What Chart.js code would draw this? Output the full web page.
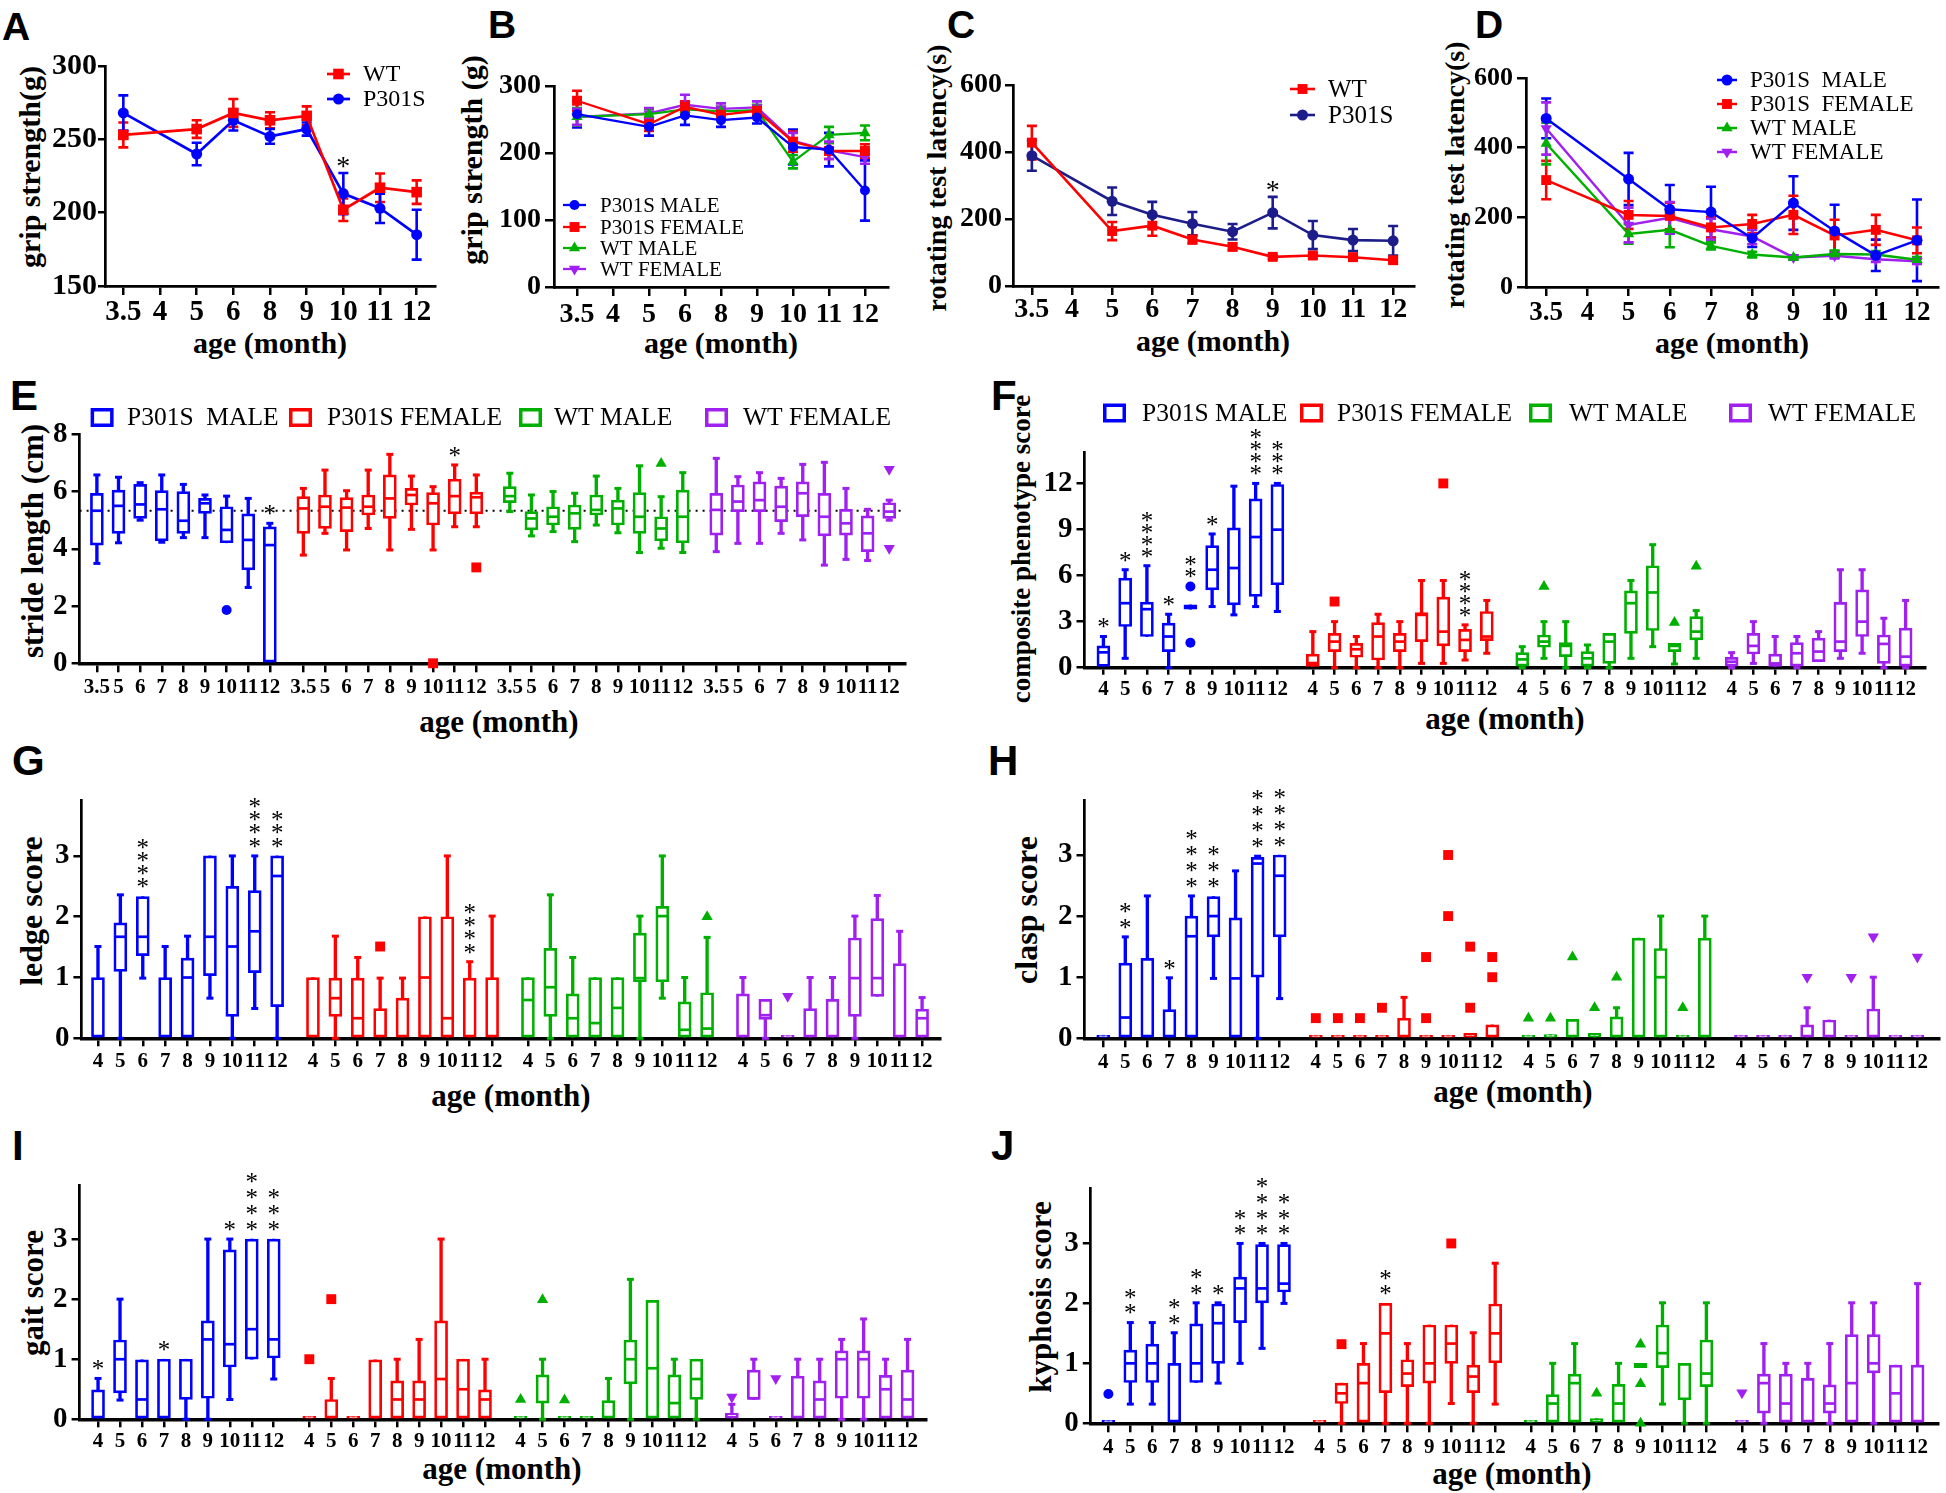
<!DOCTYPE html>
<html lang="en">
<head>
<meta charset="utf-8">
<title>P301S behaviour</title>
<script src="https://cdn.jsdelivr.net/npm/chart.js@4.4.1/dist/chart.umd.min.js"></script>
<style>
  body { margin: 0; width: 1946px; height: 1493px; position: relative; background: #fff; overflow: hidden; }
  canvas { position: absolute; }
  .letra { position: absolute; font-family: 'Liberation Sans', Arial, sans-serif; font-weight: bold; line-height: 1; color: #000; }
  .tit { position: absolute; font-family: 'Liberation Serif', 'Times New Roman', serif; font-weight: bold; line-height: 1; white-space: nowrap; color: #000; transform: translate(-50%, -50%); }
  .rot { transform: translate(-50%, -50%) rotate(-90deg); }
</style>
</head>
<body>
<div class="letra" style="left:2px;top:7px;font-size:39px">A</div>
<div class="letra" style="left:488px;top:5px;font-size:39px">B</div>
<div class="letra" style="left:947px;top:5px;font-size:39px">C</div>
<div class="letra" style="left:1475px;top:5px;font-size:39px">D</div>
<div class="letra" style="left:10px;top:375px;font-size:42px">E</div>
<div class="letra" style="left:991px;top:375px;font-size:42px">F</div>
<div class="letra" style="left:12px;top:740px;font-size:42px">G</div>
<div class="letra" style="left:988px;top:740px;font-size:42px">H</div>
<div class="letra" style="left:12px;top:1125px;font-size:42px">I</div>
<div class="letra" style="left:991px;top:1125px;font-size:42px">J</div>

<div class="tit rot" style="left:30px;top:167px;font-size:30px">grip strength(g)</div>
<div class="tit" style="left:270px;top:343px;font-size:30px">age (month)</div>
<div class="tit rot" style="left:472px;top:160px;font-size:30px">grip strength (g)</div>
<div class="tit" style="left:721px;top:343px;font-size:30px">age (month)</div>
<div class="tit rot" style="left:937px;top:178px;font-size:28px">rotating test latency(s)</div>
<div class="tit" style="left:1213px;top:341px;font-size:30px">age (month)</div>
<div class="tit rot" style="left:1455px;top:175px;font-size:28px">rotating test latency(s)</div>
<div class="tit" style="left:1732px;top:343px;font-size:30px">age (month)</div>
<div class="tit rot" style="left:32px;top:541px;font-size:31px">stride length (cm)</div>
<div class="tit" style="left:499px;top:721px;font-size:31px">age (month)</div>
<div class="tit rot" style="left:1021px;top:549px;font-size:27px">composite phenotype score</div>
<div class="tit" style="left:1505px;top:718px;font-size:31px">age (month)</div>
<div class="tit rot" style="left:31px;top:911px;font-size:32px">ledge score</div>
<div class="tit" style="left:511px;top:1095px;font-size:31px">age (month)</div>
<div class="tit rot" style="left:1026px;top:910px;font-size:32px">clasp score</div>
<div class="tit" style="left:1513px;top:1091px;font-size:31px">age (month)</div>
<div class="tit rot" style="left:32px;top:1293px;font-size:31px">gait score</div>
<div class="tit" style="left:502px;top:1468px;font-size:31px">age (month)</div>
<div class="tit rot" style="left:1040px;top:1297px;font-size:31px">kyphosis score</div>
<div class="tit" style="left:1512px;top:1473px;font-size:31px">age (month)</div>

<script>
const SERIF = "'Liberation Serif', 'Times New Roman', serif";
const AZUL = '#0000FF';
const VERMELHO = '#FF0000';
const VERDE = '#00B000';
const ROXO = '#A020F0';
const MARINHO = '#1C1C8A';

// ---------- A / B: grip strength (média ± EP) ----------
const mesesGrip = ['3.5', '4', '5', '6', '8', '9', '10', '11', '12'];
const gripWT = [253, null, 257, 268, 263, 266, 202, 217, 214];
const gripWTErro = [8.5, null, 6, 9.5, 5.5, 6.5, 7.7, 9.7, 8];
const gripP301S = [268, null, 240, 263, 252, 257, 213, 203, 185];
const gripP301SErro = [12, null, 7.7, 7, 5, 4.5, 14, 10, 17];
const gripEstrelas = [0, 0, 0, 0, 0, 0, 1, 0, 0];

const gripMachoP301S = [258, null, 239, 256, 249, 253, 209, 205, 144];
const gripMachoP301SErro = [20, null, 13, 14, 10, 9, 26, 25, 45];
const gripFemeaP301S = [278, null, 243, 269, 257, 263, 217, 203, 203];
const gripFemeaP301SErro = [15, null, 10, 8, 7, 7, 15, 12, 10];
const gripMachoWT = [254, null, 258, 265, 262, 264, 187, 227, 230];
const gripMachoWTErro = [13, null, 8, 8, 7, 8, 10, 12, 11];
const gripFemeaWT = [254, null, 259, 272, 266, 268, 218, 204, 194];
const gripFemeaWTErro = [12, null, 8, 15, 8, 9, 12, 13, 10];

// ---------- C / D: rotarod ----------
const mesesRota = ['3.5', '4', '5', '6', '7', '8', '9', '10', '11', '12'];
const rotaWT = [428, null, 164, 180, 139, 117, 87, 91, 86, 77];
const rotaWTErro = [50, null, 27, 30, 12, 10, 6, 6, 7, 6];
const rotaP301S = [389, null, 253, 213, 186, 162, 219, 152, 137, 135];
const rotaP301SErro = [45, null, 41, 38, 35, 23, 47, 42, 33, 44];
const rotaEstrelas = [0, 0, 0, 0, 0, 0, 1, 0, 0, 0];

const rotaMachoP301S = [484, null, 310, 223, 215, 140, 241, 161, 91, 134];
const rotaMachoP301SErro = [57, null, 75, 70, 73, 25, 77, 75, 45, 117];
const rotaFemeaP301S = [307, null, 207, 204, 171, 181, 207, 148, 164, 134];
const rotaFemeaP301SErro = [55, null, 40, 38, 30, 26, 55, 45, 43, 37];
const rotaMachoWT = [412, null, 152, 164, 118, 93, 85, 95, 93, 78];
const rotaMachoWTErro = [60, null, 28, 50, 10, 8, 6, 10, 10, 8];
const rotaFemeaWT = [455, null, 178, 199, 166, 145, 85, 90, 80, 74];
const rotaFemeaWTErro = [75, null, 50, 45, 30, 22, 5, 8, 8, 8];

// ---------- caixas: [min, q1, mediana, q3, max] por mês ----------
const mesesStride = ['3.5', '5', '6', '7', '8', '9', '10', '11', '12'];
const mesesScore = ['4', '5', '6', '7', '8', '9', '10', '11', '12'];
const nomesE = ['P301S  MALE', 'P301S FEMALE', 'WT MALE', 'WT FEMALE'];
const nomesF = ['P301S MALE', 'P301S FEMALE', 'WT MALE', 'WT FEMALE'];

// E: stride length (cm)
const strideRef = 5.33;
const strideMachoP = [[3.49, 4.13, 5.33, 5.94, 6.58], [4.21, 4.54, 5.5, 6.05, 6.5], [5.0, 5.06, 5.55, 6.25, 6.31], [4.23, 4.28, 5.38, 6.03, 6.58], [4.39, 4.54, 4.98, 6.0, 6.25], [4.39, 5.24, 5.59, 5.76, 5.88], [4.21, 4.21, 4.66, 5.47, 5.84], [2.65, 3.26, 4.31, 5.22, 5.76], [0, 0, 4.13, 4.77, 4.89]];
const strideFemeaP = [[3.78, 4.54, 5.41, 5.82, 6.11], [4.54, 4.71, 5.47, 5.88, 6.75], [3.96, 4.6, 5.44, 5.79, 6.03], [4.71, 5.18, 5.47, 5.88, 6.75], [3.96, 5.06, 5.76, 6.58, 7.3], [4.68, 5.53, 5.88, 6.11, 6.54], [3.96, 4.83, 5.59, 5.96, 6.17], [4.77, 5.22, 5.84, 6.43, 6.93], [4.77, 5.22, 5.8, 5.98, 6.58]];
const strideMachoWT = [[5.3, 5.61, 5.84, 6.17, 6.64], [4.45, 4.66, 5.06, 5.3, 5.88], [4.6, 4.83, 5.12, 5.47, 6.0], [4.25, 4.68, 5.24, 5.53, 5.94], [4.83, 5.18, 5.36, 5.88, 6.54], [4.56, 4.83, 5.41, 5.7, 6.11], [3.87, 4.54, 5.12, 5.96, 6.9], [4.02, 4.28, 4.71, 5.12, 5.82], [3.87, 4.21, 5.12, 6.05, 6.66]];
const strideFemeaWT = [[3.9, 4.48, 5.36, 5.94, 7.16], [4.19, 5.3, 5.65, 6.23, 6.52], [4.19, 5.3, 5.7, 6.34, 6.66], [4.54, 4.95, 5.47, 6.19, 6.46], [4.31, 5.12, 5.94, 6.34, 6.95], [3.43, 4.45, 5.12, 5.94, 7.02], [3.63, 4.48, 4.89, 5.38, 6.11], [3.59, 3.9, 4.54, 5.15, 5.38], [5.0, 5.06, 5.3, 5.61, 5.7]];
const strideOut = [[[6, 1.86]], [[6, 0], [8, 3.35]], [[7, 6.98]], [[8, 6.78], [8, 4.02]]];
const strideEst = [[0, 0, 0, 0, 0, 0, 0, 0, 1], [0, 0, 0, 0, 0, 0, 0, 1, 0], null, null];

// F: composite phenotype score
const compMachoP = [[0, 0, 1.0, 1.42, 2.03], [0.61, 2.68, 4.2, 5.84, 6.38], [2.03, 2.03, 3.81, 4.27, 6.64], [0, 1.05, 2.03, 2.9, 3.48], [3.81, 3.81, 3.95, 4.09, 4.09], [3.98, 5.07, 6.38, 7.95, 8.71], [3.44, 4.09, 6.49, 9.1, 11.82], [3.98, 4.64, 8.51, 11.0, 12.0], [3.66, 5.4, 8.99, 11.93, 12.0]];
const compFemeaP = [[0, 0, 0.3, 0.89, 2.35], [0, 1.05, 1.7, 2.24, 3.0], [0, 0.68, 1.2, 1.59, 2.03], [0, 0.5, 2.03, 2.94, 3.48], [0, 1.05, 1.7, 2.24, 3.0], [0.28, 1.7, 3.44, 3.59, 5.68], [0.28, 1.42, 2.35, 4.6, 5.68], [0.5, 1.05, 1.81, 2.5, 2.79], [0.94, 1.76, 2.03, 3.66, 4.38]];
const compMachoWT = [[0, 0.1, 0.54, 0.98, 1.37], [0.61, 1.33, 1.7, 2.13, 3.0], [0, 0.72, 1.42, 1.63, 3.0], [0, 0.1, 0.61, 1.05, 1.48], [0, 0.28, 1.7, 2.24, 2.24], [0.61, 2.24, 4.2, 5.0, 5.68], [1.37, 2.42, 4.9, 6.64, 8.01], [0.24, 1.05, 1.42, 1.59, 1.59], [0.61, 1.81, 2.35, 3.33, 3.72]];
const compFemeaWT = [[0, 0.1, 0.39, 0.68, 0.98], [0.28, 0.89, 1.42, 2.24, 3.0], [0, 0, 0.28, 0.89, 2.03], [0, 0.1, 0.94, 1.63, 2.03], [0.39, 0.39, 1.05, 1.92, 2.35], [0.61, 1.05, 1.7, 4.25, 6.38], [0.94, 2.03, 3.0, 5.07, 6.38], [0, 0.28, 1.55, 2.13, 3.22], [0, 0.1, 0.72, 2.57, 4.38]];
const compOut = [[[4, 5.29], [4, 1.63]], [[1, 4.31], [6, 12.0]], [[1, 5.29], [7, 2.94], [8, 6.6]], []];
const compEst = [[1, 1, 4, 1, 2, 1, 0, 4, 3], [0, 0, 0, 0, 0, 0, 0, 4, 0], null, null];

// G: ledge score
const ledgeMachoP = [[0, 0, 0, 1.0, 1.51], [0, 1.1, 1.67, 1.9, 2.36], [0.99, 1.36, 1.67, 2.33, 2.33], [0, 0, 0, 1.0, 1.51], [0, 0, 1.0, 1.32, 1.68], [0.66, 1.03, 1.67, 3.0, 3.0], [0, 0.36, 1.51, 2.5, 3.0], [0.49, 1.08, 1.76, 2.43, 3.0], [0, 0.52, 2.67, 3.0, 3.0]];
const ledgeFemeaP = [[0, 0, 0, 1, 1], [0, 0.36, 0.66, 0.99, 1.68], [0, 0, 0.33, 0.99, 1.33], [0, 0, 0, 0.49, 0.99], [0, 0, 0, 0.66, 0.99], [0, 0, 1.0, 2.0, 2.0], [0, 0, 0.33, 2.0, 3.0], [0, 0, 0, 0.99, 1.26], [0, 0, 0, 1.0, 2.01]];
const ledgeMachoWT = [[0, 0, 0.63, 1, 1], [0, 0.36, 0.84, 1.48, 2.36], [0, 0, 0.33, 0.73, 1.33], [0, 0, 0.25, 1, 1], [0, 0, 0.5, 1, 1], [0, 0.93, 0.99, 1.73, 2.01], [0.66, 0.93, 2.01, 2.17, 3.0], [0, 0, 0.14, 0.6, 1.0], [0, 0, 0.16, 0.75, 1.66]];
const ledgeFemeaWT = [[0, 0, 0, 0.73, 1], [0, 0.31, 0.38, 0.64, 0.64], [0, 0, 0, 0.05, 0.05], [0, 0, 0, 0.49, 1], [0, 0, 0, 0.64, 1], [0, 0.36, 0.99, 1.65, 2.01], [0.69, 0.69, 0.99, 1.97, 2.35], [0, 0, 0, 1.23, 1.76], [0, 0, 0.33, 0.48, 0.67]];
const ledgeOut = [[], [[3, 1.51]], [[8, 2.0]], [[2, 0.69]]];
const ledgeEst = [[0, 0, 4, 0, 0, 0, 0, 4, 3], [0, 0, 0, 0, 0, 0, 0, 4, 0], null, null];

// H: clasp score
const claspMachoP = [[0, 0, 0, 0.05, 0.05], [0, 0, 0.34, 1.23, 1.66], [0, 0, 0, 1.31, 2.33], [0, 0, 0, 0.47, 0.99], [0, 0, 1.67, 2.0, 2.33], [0.98, 1.66, 2.0, 2.32, 2.32], [0, 0, 0.98, 1.97, 2.74], [0, 1.0, 2.86, 2.96, 2.98], [0.65, 1.66, 2.66, 3.0, 3.0]];
const claspFemeaP = [[0, 0, 0, 0.05, 0.05], [0, 0, 0, 0.05, 0.05], [0, 0, 0, 0.05, 0.05], [0, 0, 0, 0.05, 0.05], [0, 0, 0, 0.33, 0.67], [0, 0, 0, 0.05, 0.05], [0, 0, 0, 0.05, 0.05], [0, 0, 0, 0.08, 0.08], [0, 0, 0, 0.22, 0.22]];
const claspMachoWT = [[0, 0, 0, 0.05, 0.05], [0, 0, 0, 0.06, 0.06], [0, 0, 0, 0.31, 0.31], [0, 0, 0, 0.08, 0.08], [0, 0, 0, 0.35, 0.5], [0, 0, 0, 1.64, 1.64], [0, 0, 1.0, 1.47, 2.0], [0, 0, 0, 0.05, 0.05], [0, 0, 0, 1.64, 2.0]];
const claspFemeaWT = [[0, 0, 0, 0.05, 0.05], [0, 0, 0, 0.05, 0.05], [0, 0, 0, 0.05, 0.05], [0, 0, 0, 0.22, 0.5], [0, 0, 0, 0.3, 0.3], [0, 0, 0, 0.05, 0.05], [0, 0, 0, 0.48, 1.0], [0, 0, 0, 0.05, 0.05], [0, 0, 0, 0.05, 0.05]];
const claspOut = [[], [[0, 0.33], [1, 0.33], [2, 0.33], [3, 0.5], [5, 1.33], [5, 0.33], [6, 3.0], [6, 2.0], [7, 1.5], [7, 0.5], [8, 1.33], [8, 1.0]], [[0, 0.33], [1, 0.33], [2, 1.33], [3, 0.5], [4, 1.0], [7, 0.5]], [[3, 1.0], [5, 1.0], [6, 1.66], [8, 1.33]]];
const claspEst = [[0, 2, 0, 1, 4, 3, 0, 4, 4], null, null, null];

// I: gait score
const gaitMachoP = [[0, 0, 0, 0.49, 0.68], [0.32, 0.44, 1.0, 1.32, 2.0], [0, 0, 0.33, 0.99, 0.99], [0, 0, 0, 1, 1], [0, 0.33, 0.33, 1, 1], [0, 0.35, 1.33, 1.64, 3.0], [0.33, 0.87, 1.25, 2.82, 3.0], [1.0, 1.0, 1.5, 3.0, 3.0], [0.67, 1.02, 1.33, 3.0, 3.0]];
const gaitFemeaP = [[0, 0, 0, 0.05, 0.05], [0, 0, 0, 0.33, 0.68], [0, 0, 0, 0.05, 0.05], [0, 0, 0, 0.99, 0.99], [0, 0, 0.33, 0.64, 1.0], [0, 0, 0.33, 0.64, 1.33], [0, 0, 0.67, 1.64, 3.0], [0, 0, 0.5, 1.0, 1.0], [0, 0, 0.33, 0.49, 1.0]];
const gaitMachoWT = [[0, 0, 0, 0.05, 0.05], [0, 0.27, 0.27, 0.74, 1.0], [0, 0, 0, 0.05, 0.05], [0, 0, 0, 0.05, 0.05], [0, 0, 0, 0.31, 0.68], [0, 0.59, 1.0, 1.32, 2.33], [0, 0, 0.85, 1.98, 1.98], [0, 0, 0.27, 0.74, 1.0], [0, 0.33, 0.67, 1.0, 1.0]];
const gaitFemeaWT = [[0, 0, 0, 0.1, 0.25], [0.33, 0.33, 0.35, 0.82, 1.0], [0, 0, 0, 0.05, 0.05], [0, 0, 0, 0.72, 1.0], [0, 0, 0.33, 0.64, 1.0], [0, 0.35, 1.0, 1.14, 1.33], [0, 0.35, 1.0, 1.14, 1.67], [0, 0, 0.5, 0.73, 1.0], [0, 0, 0.33, 0.82, 1.33]];
const gaitOut = [[], [[0, 1.0], [1, 2.0]], [[0, 0.33], [1, 1.99], [2, 0.32]], [[0, 0.37], [2, 0.68]]];
const gaitEst = [[1, 0, 0, 1, 0, 0, 1, 4, 3], null, null, null];

// J: kyphosis score
const kyphMachoP = [[0, 0, 0, 0.05, 0.05], [0.32, 0.68, 1.0, 1.22, 1.68], [0.32, 0.68, 1.0, 1.32, 1.68], [0, 0, 0, 1.0, 1.51], [0.68, 0.68, 1.0, 1.66, 2.01], [0.67, 1.0, 1.67, 1.99, 2.01], [1.0, 1.68, 2.25, 2.44, 3.0], [1.25, 2.01, 2.25, 2.98, 3.0], [2.0, 2.19, 2.33, 2.98, 3.0]];
const kyphFemeaP = [[0, 0, 0, 0.05, 0.05], [0, 0.33, 0.5, 0.67, 0.67], [0, 0, 0.67, 1.0, 1.33], [0, 0.51, 1.5, 2.0, 2.0], [0, 0.61, 0.83, 1.06, 1.33], [0, 0.67, 1.0, 1.64, 1.64], [0.33, 1.0, 1.33, 1.64, 1.64], [0, 0.51, 0.78, 0.97, 1.51], [0.32, 1.01, 1.5, 1.99, 2.67]];
const kyphMachoWT = [[0, 0, 0, 0.05, 0.05], [0, 0, 0.33, 0.48, 1.0], [0, 0, 0.67, 0.82, 1.33], [0, 0, 0, 0.08, 0.08], [0, 0, 0.33, 0.65, 1.0], [0.93, 0.93, 0.97, 1.0, 1.0], [0.32, 0.93, 1.17, 1.64, 2.01], [0, 0.39, 0.39, 1.0, 1.0], [0, 0.61, 0.83, 1.39, 2.01]];
const kyphFemeaWT = [[0, 0, 0, 0.05, 0.05], [0, 0.17, 0.67, 0.82, 1.33], [0, 0, 0.33, 0.82, 1.0], [0, 0, 0, 0.75, 1.0], [0, 0.17, 0.33, 0.64, 1.33], [0, 0, 0.67, 1.48, 2.01], [0, 0.84, 1.0, 1.48, 2.01], [0, 0, 0.5, 0.97, 0.97], [0, 0, 0, 0.97, 2.33]];
const kyphOut = [[[0, 0.49]], [[1, 1.32], [6, 3.0]], [[3, 0.5], [5, 1.32], [5, 0.66], [5, 0]], [[0, 0.51]]];
const kyphEst = [[0, 2, 0, 2, 2, 1, 2, 4, 3], [0, 0, 0, 2, 0, 0, 0, 0, 0], null, null];

// marcadores dos grupos (mesma ordem em todas as figuras)
const CORES = [AZUL, VERMELHO, VERDE, ROXO];
const MARCAS = [['circle', 0, 5], ['rect', 0, 7], ['triangle', 0, 6.5], ['triangle', 180, 6.5]];

// ---------- utilitários ----------
function novoCanvas(p) {
    const c = document.createElement('canvas');
    c.width = p.w;
    c.height = p.h;
    c.style.left = p.left + 'px';
    c.style.top = p.top + 'px';
    document.body.appendChild(c);
    return c;
}

function marcador(ctx, estilo, rot, x, y, r) {
    ctx.beginPath();
    if (estilo === 'circle') {
        ctx.arc(x, y, r, 0, Math.PI * 2);
    } else if (estilo === 'rect') {
        const s = r * Math.SQRT1_2;
        ctx.rect(x - s, y - s, 2 * s, 2 * s);
    } else {
        let a = rot * Math.PI / 180;
        ctx.moveTo(x + Math.sin(a) * r, y - Math.cos(a) * r);
        a += 2 * Math.PI / 3;
        ctx.lineTo(x + Math.sin(a) * r, y - Math.cos(a) * r);
        a += 2 * Math.PI / 3;
        ctx.lineTo(x + Math.sin(a) * r, y - Math.cos(a) * r);
        ctx.closePath();
    }
    ctx.fill();
}

function estrelas(ctx, x, yBase, n, passo, fonte) {
    ctx.save();
    ctx.font = fonte + 'px ' + SERIF;
    ctx.textAlign = 'center';
    ctx.textBaseline = 'middle';
    ctx.fillStyle = '#000';
    for (let j = 0; j < n; j++) {
        ctx.fillText('*', x, yBase - j * passo + 0.13 * fonte);
    }
    ctx.restore();
}

function eixoX(p, posicoes, rotulos, fonte) {
    return {
        type: 'linear', bounds: 'data', offset: false, min: p.x[0], max: p.x[1],
        afterBuildTicks: s => { s.ticks = posicoes.map(v => ({ value: v })); },
        afterFit: s => { s.height = p.top + p.h - p.area[3]; },
        ticks: {
            autoSkip: false, maxRotation: 0, minRotation: 0, color: '#000', padding: p.tickX[1],
            font: { family: SERIF, weight: 'bold', size: fonte },
            callback: (v, i) => rotulos[i]
        },
        grid: { drawOnChartArea: false, offset: false, color: '#000', lineWidth: 2.5, tickLength: p.tickX[0] },
        border: { color: '#000', width: p.bordaX || 2.7 }
    };
}

function eixoY(p, fonte) {
    const passo = p.y[2];
    return {
        type: 'linear', bounds: 'data', min: p.y[0], max: p.y[1],
        afterBuildTicks: s => {
            // só marcas em múltiplos do passo (o topo do eixo fica sem rótulo)
            s.ticks = s.ticks.filter(t => Math.abs(t.value / passo - Math.round(t.value / passo)) < 1e-6);
        },
        afterFit: s => { s.width = p.area[0] - p.left; },
        ticks: {
            stepSize: passo, includeBounds: false, color: '#000', padding: p.tickY[1],
            font: { family: SERIF, weight: 'bold', size: fonte }
        },
        grid: { drawOnChartArea: false, color: '#000', lineWidth: 2.5, tickLength: p.tickY[0] },
        border: { color: '#000', width: 2.7 }
    };
}

function layoutDe(p) {
    return { padding: { left: 0, bottom: 0, top: p.area[1] - p.top, right: p.left + p.w - p.area[2] } };
}

// ---------- gráficos de linha (A-D) ----------
function criarLinhas(p) {
    const datasets = p.series.map(s => ({
        type: 'line',
        label: s.nome,
        data: s.valores.map((v, i) => ({ x: i, y: v })),
        erro: s.erro,
        estrelas: s.estrelas,
        borderColor: s.cor,
        backgroundColor: s.cor,
        borderWidth: p.espLinha,
        pointStyle: s.marca[0],
        pointRotation: s.marca[1],
        pointRadius: s.marca[2],
        pointBorderWidth: 0,
        spanGaps: true,
        clip: false
    }));

    const enfeites = {
        id: 'enfeitesLinha',
        beforeDatasetsDraw(chart) {
            // barras de erro
            const { ctx, scales: { x, y } } = chart;
            chart.data.datasets.forEach(ds => {
                ctx.save();
                ctx.strokeStyle = ds.borderColor;
                ctx.lineWidth = 2.6;
                ds.data.forEach((pt, i) => {
                    if (pt.y == null) return;
                    const px = x.getPixelForValue(pt.x);
                    const t = y.getPixelForValue(pt.y + ds.erro[i]);
                    const b = y.getPixelForValue(pt.y - ds.erro[i]);
                    ctx.beginPath();
                    ctx.moveTo(px, t); ctx.lineTo(px, b);
                    ctx.moveTo(px - 5, t); ctx.lineTo(px + 5, t);
                    ctx.moveTo(px - 5, b); ctx.lineTo(px + 5, b);
                    ctx.stroke();
                });
                ctx.restore();
            });
        },
        afterDatasetsDraw(chart) {
            const { ctx, scales: { x, y } } = chart;
            chart.data.datasets.forEach(ds => {
                if (!ds.estrelas) return;
                ds.estrelas.forEach((n, i) => {
                    if (!n) return;
                    const pt = ds.data[i];
                    const topo = y.getPixelForValue(pt.y + ds.erro[i]);
                    estrelas(ctx, x.getPixelForValue(pt.x), topo - 9, n, 14, 28);
                });
            });
            // legenda
            const L = p.legenda;
            ctx.save();
            ctx.font = L.fonte + 'px ' + SERIF;
            ctx.textBaseline = 'middle';
            ctx.textAlign = 'left';
            p.series.forEach((s, k) => {
                const yy = L.ys[k] - p.top;
                const x1 = L.x1 - p.left, x2 = L.x2 - p.left;
                ctx.strokeStyle = s.cor;
                ctx.fillStyle = s.cor;
                ctx.lineWidth = p.espLinha;
                ctx.beginPath(); ctx.moveTo(x1, yy); ctx.lineTo(x2, yy); ctx.stroke();
                marcador(ctx, s.marca[0], s.marca[1], (x1 + x2) / 2, yy, s.marca[2]);
                ctx.fillStyle = '#000';
                ctx.fillText(s.nome, L.xt - p.left, yy + 1);
            });
            ctx.restore();
        }
    };

    new Chart(novoCanvas(p), {
        type: 'line',
        data: { datasets },
        options: {
            animation: false,
            responsive: false,
            events: [],
            layout: layoutDe(p),
            plugins: { legend: { display: false }, tooltip: { enabled: false } },
            scales: {
                x: eixoX(p, p.meses.map((m, i) => i), p.meses, p.fonteX),
                y: eixoY(p, p.fonteY)
            }
        },
        plugins: [enfeites]
    });
}

// ---------- box plots (E-J) ----------
function criarCaixas(p) {
    const posicoes = [];
    const rotulos = [];
    p.grupos.forEach((g, k) => p.meses.forEach((m, i) => {
        posicoes.push(k * p.passoGrupo + i);
        rotulos.push(m);
    }));

    const datasets = [];
    p.grupos.forEach((caixas, k) => {
        const xk = i => k * p.passoGrupo + i;
        // bigodes
        datasets.push({
            type: 'bar', data: caixas.map((c, i) => ({ x: xk(i), y: [c[0], c[4]] })),
            backgroundColor: CORES[k], borderWidth: 0, maxBarThickness: 2.7,
            categoryPercentage: 1, barPercentage: 1, grouped: false, order: 3, clip: false
        });
        // caixa q1-q3
        datasets.push({
            type: 'bar', data: caixas.map((c, i) => ({ x: xk(i), y: [c[1], c[3]] })),
            caixas: caixas, estrelas: p.estrelas[k], fora: p.fora[k],
            backgroundColor: '#fff', borderColor: CORES[k], borderWidth: 2.7, borderSkipped: false,
            maxBarThickness: 13, categoryPercentage: 1, barPercentage: 1, grouped: false, order: 2, clip: false
        });
        // pontos fora
        datasets.push({
            type: 'scatter', data: p.fora[k].map(([i, v]) => ({ x: xk(i), y: v })),
            backgroundColor: CORES[k], pointStyle: MARCAS[k][0], pointRotation: MARCAS[k][1],
            pointRadius: MARCAS[k][2], pointBorderWidth: 0, order: 1, clip: false
        });
    });

    const enfeites = {
        id: 'enfeitesCaixa',
        beforeDatasetsDraw(chart) {
            if (p.linhaRef == null) return;
            const { ctx, chartArea: a, scales: { y } } = chart;
            const yy = y.getPixelForValue(p.linhaRef);
            ctx.save();
            ctx.setLineDash([2, 5]);
            ctx.lineWidth = 2;
            ctx.strokeStyle = '#000';
            ctx.beginPath(); ctx.moveTo(a.left, yy); ctx.lineTo(a.right, yy); ctx.stroke();
            ctx.restore();
        },
        afterDatasetsDraw(chart) {
            const { ctx, scales: { y } } = chart;
            chart.data.datasets.forEach((ds, k) => {
                if (!ds.caixas) return;
                const els = chart.getDatasetMeta(k).data;
                ctx.save();
                ctx.strokeStyle = ds.borderColor;
                ds.caixas.forEach((c, i) => {
                    const x = els[i].x, w = els[i].width;
                    const [mn, q1, md, q3, mx] = c;
                    ctx.lineWidth = 2.7;
                    if (md > q1 && md < q3) {
                        const ym = y.getPixelForValue(md);
                        ctx.beginPath(); ctx.moveTo(x - w / 2 + 1, ym); ctx.lineTo(x + w / 2 - 1, ym); ctx.stroke();
                    }
                    ctx.lineWidth = 3;
                    if (mx > q3) {
                        const yt = y.getPixelForValue(mx);
                        ctx.beginPath(); ctx.moveTo(x - 3.5, yt); ctx.lineTo(x + 3.5, yt); ctx.stroke();
                    }
                    if (mn < q1) {
                        const yb = y.getPixelForValue(mn);
                        ctx.beginPath(); ctx.moveTo(x - 3.5, yb); ctx.lineTo(x + 3.5, yb); ctx.stroke();
                    }
                    if (ds.estrelas && ds.estrelas[i]) {
                        // acima do bigode ou do ponto mais alto da mesma idade
                        let topo = mx;
                        ds.fora.forEach(([j, v]) => { if (j === i && v > topo) topo = v; });
                        estrelas(ctx, x, y.getPixelForValue(topo) - 11, ds.estrelas[i], p.passoEstrela, 25);
                    }
                });
                ctx.restore();
            });
        },
        afterDraw(chart) {
            const L = p.legenda;
            if (!L) return;
            const ctx = chart.ctx;
            ctx.save();
            ctx.font = L.fonte + 'px ' + SERIF;
            ctx.textBaseline = 'middle';
            ctx.textAlign = 'left';
            L.nomes.forEach((nome, k) => {
                const bx = L.caixaX[k] - p.left, by = L.y - p.top;
                ctx.strokeStyle = CORES[k];
                ctx.lineWidth = 3.5;
                ctx.strokeRect(bx + 1.75, by - 9.5 + 1.75, 23 - 3.5, 19 - 3.5);
                ctx.fillStyle = '#000';
                ctx.fillText(nome, L.textoX[k] - p.left, by + 1);
            });
            ctx.restore();
        }
    };

    new Chart(novoCanvas(p), {
        type: 'bar',
        data: { datasets },
        options: {
            animation: false,
            responsive: false,
            events: [],
            layout: layoutDe(p),
            plugins: { legend: { display: false }, tooltip: { enabled: false } },
            scales: {
                x: eixoX(p, posicoes, rotulos, 21),
                y: eixoY(p, 29)
            }
        },
        plugins: [enfeites]
    });
}

// ---------- painéis ----------
criarLinhas({
    left: 0, top: 40, w: 470, h: 330, area: [105, 66, 435, 286],
    meses: mesesGrip, x: [-0.5, 8.5], y: [150, 300, 50],
    fonteX: 29, fonteY: 30, tickX: [9, 0], tickY: [7, 1], espLinha: 2.7,
    series: [
        { nome: 'WT', valores: gripWT, erro: gripWTErro, cor: VERMELHO, marca: ['rect', 0, 7.5] },
        { nome: 'P301S', valores: gripP301S, erro: gripP301SErro, cor: AZUL, marca: ['circle', 0, 5.5], estrelas: gripEstrelas }
    ],
    legenda: { x1: 327, x2: 350, xt: 363, ys: [74, 99], fonte: 24 }
});

criarLinhas({
    left: 440, top: 50, w: 490, h: 320, area: [554, 86, 888, 287],
    meses: mesesGrip, x: [-0.64, 8.64], y: [0, 300, 100],
    fonteX: 28, fonteY: 28, tickX: [9, 2], tickY: [9, 4], espLinha: 2.3,
    series: [
        { nome: 'P301S MALE', valores: gripMachoP301S, erro: gripMachoP301SErro, cor: AZUL, marca: ['circle', 0, 5] },
        { nome: 'P301S FEMALE', valores: gripFemeaP301S, erro: gripFemeaP301SErro, cor: VERMELHO, marca: ['rect', 0, 7] },
        { nome: 'WT MALE', valores: gripMachoWT, erro: gripMachoWTErro, cor: VERDE, marca: ['triangle', 0, 6.5] },
        { nome: 'WT FEMALE', valores: gripFemeaWT, erro: gripFemeaWTErro, cor: ROXO, marca: ['triangle', 180, 6.5] }
    ],
    legenda: { x1: 563, x2: 586, xt: 600, ys: [205, 227, 248, 269], fonte: 21 }
});

criarLinhas({
    left: 935, top: 50, w: 500, h: 320, area: [1013, 85, 1414, 286],
    meses: mesesRota, x: [-0.47, 9.52], y: [0, 600, 200],
    fonteX: 28, fonteY: 28, tickX: [9, -2], tickY: [8, 3], espLinha: 2.6,
    series: [
        { nome: 'WT', valores: rotaWT, erro: rotaWTErro, cor: VERMELHO, marca: ['rect', 0, 7] },
        { nome: 'P301S', valores: rotaP301S, erro: rotaP301SErro, cor: MARINHO, marca: ['circle', 0, 5.5], estrelas: rotaEstrelas }
    ],
    legenda: { x1: 1290, x2: 1315, xt: 1328, ys: [89, 115], fonte: 25 }
});

criarLinhas({
    left: 1435, top: 40, w: 511, h: 330, area: [1526, 78, 1938, 287],
    meses: mesesRota, x: [-0.49, 9.51], y: [0, 600, 200],
    fonteX: 27, fonteY: 26, tickX: [9, 1], tickY: [9, 4], espLinha: 2.5,
    series: [
        { nome: 'P301S  MALE', valores: rotaMachoP301S, erro: rotaMachoP301SErro, cor: AZUL, marca: ['circle', 0, 5.5] },
        { nome: 'P301S  FEMALE', valores: rotaFemeaP301S, erro: rotaFemeaP301SErro, cor: VERMELHO, marca: ['rect', 0, 7] },
        { nome: 'WT MALE', valores: rotaMachoWT, erro: rotaMachoWTErro, cor: VERDE, marca: ['triangle', 0, 6.5] },
        { nome: 'WT FEMALE', valores: rotaFemeaWT, erro: rotaFemeaWTErro, cor: ROXO, marca: ['triangle', 180, 6.5] }
    ],
    legenda: { x1: 1717, x2: 1737, xt: 1750, ys: [80, 104, 128, 152], fonte: 23 }
});

criarCaixas({
    left: 0, top: 380, w: 960, h: 370, area: [79.6, 434.3, 905, 663.3],
    meses: mesesStride, passoGrupo: 9.55, x: [-0.8, 37.38], y: [0, 8, 2],
    tickX: [9, 3], tickY: [8, 4], bordaX: 3.5,
    grupos: [strideMachoP, strideFemeaP, strideMachoWT, strideFemeaWT],
    fora: strideOut, estrelas: strideEst, passoEstrela: 14, linhaRef: strideRef,
    legenda: { nomes: nomesE, caixaX: [90.6, 289, 519, 705], textoX: [127, 327, 554, 743], y: 417.5, fonte: 25.5 }
});

criarCaixas({
    left: 960, top: 380, w: 986, h: 370, area: [1084.5, 452.7, 1925.4, 667.7],
    meses: mesesScore, passoGrupo: 9.63, x: [-0.87, 37.8], y: [0, 14, 3],
    tickX: [7, 2], tickY: [8, 4], bordaX: 3.5,
    grupos: [compMachoP, compFemeaP, compMachoWT, compFemeaWT],
    fora: compOut, estrelas: compEst, passoEstrela: 12,
    legenda: { nomes: nomesF, caixaX: [1103, 1300, 1529, 1729], textoX: [1142, 1337, 1569, 1768], y: 413, fonte: 25.5 }
});

criarCaixas({
    left: 0, top: 760, w: 960, h: 370, area: [81.4, 800, 940, 1038.3],
    meses: mesesScore, passoGrupo: 9.6, x: [-0.74, 37.6], y: [0, 3.92, 1],
    tickX: [8, 3], tickY: [8, 4], bordaX: 3.5,
    grupos: [ledgeMachoP, ledgeFemeaP, ledgeMachoWT, ledgeFemeaWT],
    fora: ledgeOut, estrelas: ledgeEst, passoEstrela: 13.3
});

criarCaixas({
    left: 960, top: 760, w: 986, h: 370, area: [1084.5, 800, 1944, 1038.3],
    meses: mesesScore, passoGrupo: 9.64, x: [-0.85, 37.9], y: [0, 3.9, 1],
    tickX: [9, 3], tickY: [8, 4], bordaX: 3.5,
    grupos: [claspMachoP, claspFemeaP, claspMachoWT, claspFemeaWT],
    fora: claspOut, estrelas: claspEst, passoEstrela: 16
});

criarCaixas({
    left: 0, top: 1140, w: 960, h: 353, area: [79.6, 1185, 926, 1419.3],
    meses: mesesScore, passoGrupo: 9.62, x: [-0.84, 37.7], y: [0, 3.9, 1],
    tickX: [8, 2], tickY: [8, 4], bordaX: 3.5,
    grupos: [gaitMachoP, gaitFemeaP, gaitMachoWT, gaitFemeaWT],
    fora: gaitOut, estrelas: gaitEst, passoEstrela: 16
});

criarCaixas({
    left: 960, top: 1140, w: 986, h: 353, area: [1090.8, 1188.3, 1938, 1423.3],
    meses: mesesScore, passoGrupo: 9.62, x: [-0.8, 37.79], y: [0, 3.92, 1],
    tickX: [9, 3], tickY: [8, 4], bordaX: 3.5,
    grupos: [kyphMachoP, kyphFemeaP, kyphMachoWT, kyphFemeaWT],
    fora: kyphOut, estrelas: kyphEst, passoEstrela: 15.7
});
</script>
</body>
</html>
